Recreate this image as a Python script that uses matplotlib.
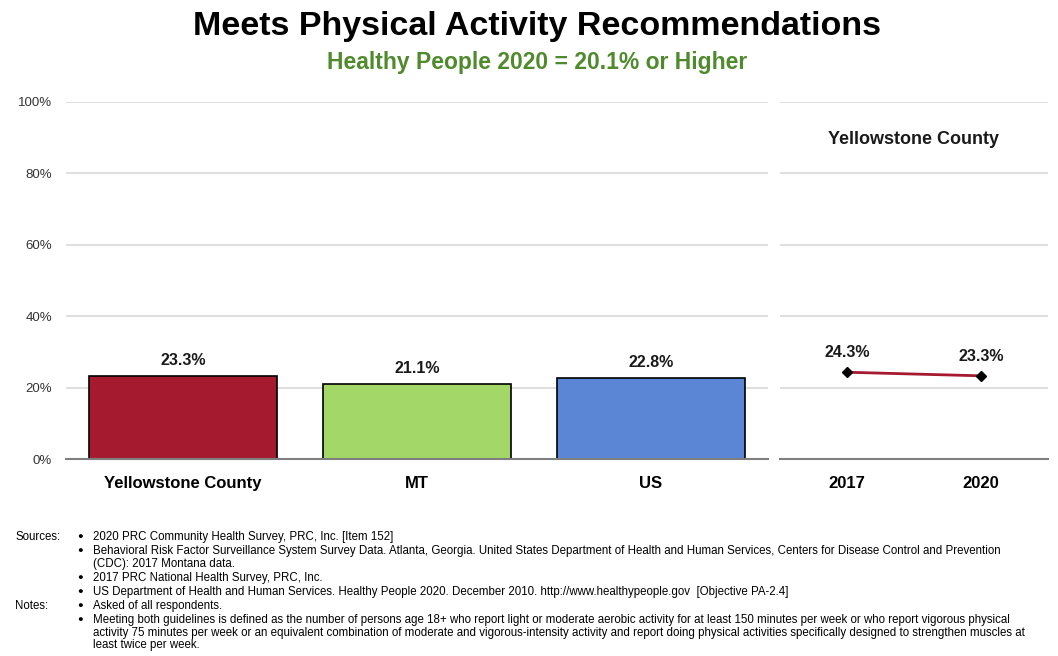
import matplotlib.pyplot as plt
from matplotlib.ticker import FuncFormatter

plt.rcParams['font.family'] = ['Liberation Sans', 'DejaVu Sans']

areas = ['Yellowstone County', 'MT', 'US']
area_values = [23.3, 21.1, 22.8]
area_colors = ['#A51A2E', '#A3D869', '#5B86D6']

years = ['2017', '2020']
trend_values = [24.3, 23.3]

y_ticks = [0, 20, 40, 60, 80, 100]

sources = [
    '2020 PRC Community Health Survey, PRC, Inc. [Item 152]',
    'Behavioral Risk Factor Surveillance System Survey Data. Atlanta, Georgia. United States Department of Health and Human Services, Centers for Disease Control and Prevention\n(CDC): 2017 Montana data.',
    '2017 PRC National Health Survey, PRC, Inc.',
    'US Department of Health and Human Services. Healthy People 2020. December 2010. http://www.healthypeople.gov  [Objective PA-2.4]',
]
notes = [
    'Asked of all respondents.',
    'Meeting both guidelines is defined as the number of persons age 18+ who report light or moderate aerobic activity for at least 150 minutes per week or who report vigorous physical\nactivity 75 minutes per week or an equivalent combination of moderate and vigorous-intensity activity and report doing physical activities specifically designed to strengthen muscles at\nleast twice per week.',
]

W, H = 1058, 656
fig = plt.figure(figsize=(W / 100, H / 100), dpi=100)

def box(x0, y0, x1, y1):
    return [x0 / W, 1 - y1 / H, (x1 - x0) / W, (y1 - y0) / H]

grid_c = '#D9D9D9'
base_c = '#7F7F7F'

# comparison bars
ax = fig.add_axes(box(66, 102, 768, 459))
ax.bar(range(len(areas)), area_values, width=0.8, color=area_colors,
       edgecolor='black', linewidth=1.2, zorder=3)
for i, v in enumerate(area_values):
    ax.text(i, v + 2.2, f'{v:.1f}%', ha='center', va='bottom',
            fontsize=11.5, fontweight='bold', color='#1a1a1a')
ax.set_xlim(-0.5, len(areas) - 0.5)
ax.set_ylim(0, 100)
ax.set_yticks(y_ticks)
ax.yaxis.set_major_formatter(FuncFormatter(lambda v, p: f'{v:.0f}%'))
ax.set_xticks(range(len(areas)))
ax.set_xticklabels(areas, fontsize=12, fontweight='bold')
ax.tick_params(axis='x', length=0, pad=12)
ax.tick_params(axis='y', length=0, pad=10, labelsize=9.5, labelcolor='#333333')
ax.grid(axis='y', color=grid_c, linewidth=1.2, zorder=0)
for s in ['top', 'right', 'left']:
    ax.spines[s].set_visible(False)
ax.spines['bottom'].set_color(base_c)
ax.spines['bottom'].set_linewidth(1.5)
ax.spines['bottom'].set_zorder(4)

# trend panel
ax2 = fig.add_axes(box(780, 102, 1048, 459))
ax2.plot(range(len(years)), trend_values, color='#A51A2E', linewidth=2,
         marker='D', markersize=5, markerfacecolor='black',
         markeredgecolor='black', zorder=3)
for i, v in enumerate(trend_values):
    ax2.text(i, v + 3.4, f'{v:.1f}%', ha='center', va='bottom',
             fontsize=11.5, fontweight='bold', color='#1a1a1a')
ax2.set_xlim(-0.5, len(years) - 0.5)
ax2.set_ylim(0, 100)
ax2.set_yticks(y_ticks)
ax2.set_yticklabels([])
ax2.set_xticks(range(len(years)))
ax2.set_xticklabels(years, fontsize=12, fontweight='bold')
ax2.tick_params(axis='x', length=0, pad=12)
ax2.tick_params(axis='y', length=0)
ax2.grid(axis='y', color=grid_c, linewidth=1.2, zorder=0)
for s in ['top', 'right', 'left']:
    ax2.spines[s].set_visible(False)
ax2.spines['bottom'].set_color(base_c)
ax2.spines['bottom'].set_linewidth(1.5)
ax2.text(0.5, 0.895, 'Yellowstone County', transform=ax2.transAxes,
         ha='center', va='center', fontsize=13, fontweight='bold',
         color='#1a1a1a')

# titles
fig.text(537 / W, 1 - 27 / H, 'Meets Physical Activity Recommendations',
         ha='center', va='center', fontsize=24.5, fontweight='bold',
         color='black')
fig.text(537 / W, 1 - 63 / H, 'Healthy People 2020 = 20.1% or Higher',
         ha='center', va='center', fontsize=16.5, fontweight='bold',
         color='#4F8A2C')

# footnotes
fs = 8.3
lh = 12.8
y = 537

def footnote_block(label, items, y):
    fig.text(15 / W, 1 - y / H, label, fontsize=fs, va='center')
    for s in items:
        fig.text(80 / W, 1 - y / H, '\u25CF', fontsize=fs - 1.5,
                 ha='center', va='center')
        lines = s.split('\n')
        for k, line in enumerate(lines):
            fig.text(93 / W, 1 - (y + k * lh) / H, line, fontsize=fs,
                     va='center')
        y += lh * len(lines) + 1.2
    return y

y = footnote_block('Sources:', sources, y)
y = footnote_block('Notes:', notes, y)

fig.savefig('out.png', dpi=100)
